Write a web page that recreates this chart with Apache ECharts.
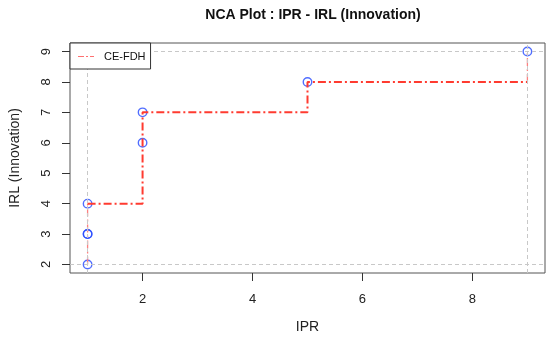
<!DOCTYPE html>
<html>
<head>
<meta charset="utf-8">
<script src="https://cdn.jsdelivr.net/npm/echarts@6/dist/echarts.min.js"></script>
<style>html,body{margin:0;padding:0;background:#fff}#c{width:550px;height:345px}</style>
</head>
<body>
<div id="c"></div>
<script>
// Observed data (IPR, IRL)
const iprValues = [1, 1, 1, 1, 2, 2, 5, 9];
const irlValues = [2, 3, 3, 4, 6, 7, 8, 9];
// CE-FDH ceiling step line (corner points)
const ceilX = [1, 1, 2, 2, 5, 5, 9, 9];
const ceilY = [2, 4, 4, 7, 7, 8, 8, 9];
// Scope limits
const scopeX = [1, 9];
const scopeY = [2, 9];
// Tick labels
const xTicks = [2, 4, 6, 8];
const yTicks = [2, 3, 4, 5, 6, 7, 8, 9];

const pts = iprValues.map((x, i) => [x, irlValues[i]]);
const ceil = ceilX.map((x, i) => [x, ceilY[i]]);
const n = ceil.length;
const firstSeg = ceil.slice(0, 2);
const midSeg = ceil.slice(1, n - 1);
const lastSeg = ceil.slice(n - 2);

const FONT = 'Liberation Sans, Arial, sans-serif';
const chart = echarts.init(document.getElementById('c'), null, {renderer: 'canvas'});
chart.setOption({
  animation: false,
  backgroundColor: '#fff',
  title: {
    text: 'NCA Plot : IPR - IRL (Innovation)',
    left: 308, top: 3, textAlign: 'center',
    textStyle: {fontFamily: FONT, fontSize: 14, fontWeight: 'bold', color: '#111'}
  },
  grid: {left: 70, right: 5, top: 43, bottom: 72, show: true, borderColor: '#555', borderWidth: 1},
  legend: {
    left: 70, top: 43, orient: 'vertical', z: 10,
    data: [{name: 'CE-FDH', icon: 'path://M0,0h6v1h-6z M8,0h2v1h-2z M12,0h4v1h-4z'}],
    borderColor: '#333', borderWidth: 1, borderRadius: 0,
    padding: [5, 5, 4, 8],
    itemWidth: 16, itemHeight: 1.5, itemGap: 4,
    itemStyle: {color: '#ff7070', borderWidth: 0},
    textStyle: {fontFamily: FONT, fontSize: 11, color: '#111', padding: [3, 0, 0, 5], lineHeight: 14},
    backgroundColor: '#fff'
  },
  xAxis: {
    type: 'value', min: 0.68, max: 9.32,
    name: 'IPR', nameLocation: 'middle', nameGap: 47,
    nameTextStyle: {fontFamily: FONT, fontSize: 14, color: '#222'},
    splitLine: {show: false},
    axisLine: {show: false},
    axisTick: {show: true, length: 8, lineStyle: {color: '#333'}, customValues: xTicks},
    axisLabel: {fontFamily: FONT, fontSize: 13, color: '#222', margin: 20, customValues: xTicks}
  },
  yAxis: {
    type: 'value', min: 1.72, max: 9.28,
    name: 'IRL (Innovation)', nameLocation: 'middle', nameGap: 48,
    nameTextStyle: {fontFamily: FONT, fontSize: 14, color: '#222'},
    splitLine: {show: false},
    axisLine: {show: false},
    axisTick: {show: true, length: 8, lineStyle: {color: '#333'}, customValues: yTicks},
    axisLabel: {fontFamily: FONT, fontSize: 13, color: '#222', margin: 17, rotate: 90, customValues: yTicks}
  },
  series: [
    {
      name: 'scope', type: 'line', data: [], silent: true, z: 1,
      markLine: {
        silent: true, symbol: 'none', label: {show: false},
        lineStyle: {color: '#c8c8c8', type: [4, 3], width: 1},
        data: [
          {xAxis: scopeX[0]}, {xAxis: scopeX[1]},
          {yAxis: scopeY[0]}, {yAxis: scopeY[1]}
        ]
      }
    },
    {
      name: 'CE-FDH', type: 'line', data: firstSeg, showSymbol: false, symbol: 'none',
      lineStyle: {color: '#ff8080', width: 1.3, type: [8, 3, 2, 3]}, itemStyle: {color: '#ff8080'}
    },
    {
      name: 'CE-FDH-last', type: 'line', data: lastSeg, showSymbol: false, symbol: 'none',
      lineStyle: {color: '#ff8080', width: 1.3, type: [8, 3, 2, 3]}
    },
    {
      name: 'ceiling', type: 'line', data: midSeg, showSymbol: false, symbol: 'none',
      lineStyle: {color: '#ff3b30', width: 2, type: [8, 3, 2, 3]}
    },
    {
      name: 'obs', type: 'scatter', data: pts, symbol: 'circle', symbolSize: 8.5,
      itemStyle: {color: 'rgba(255,255,255,0)', borderColor: '#2448ff', borderWidth: 1.4}
    }
  ]
});
</script>
</body>
</html>
